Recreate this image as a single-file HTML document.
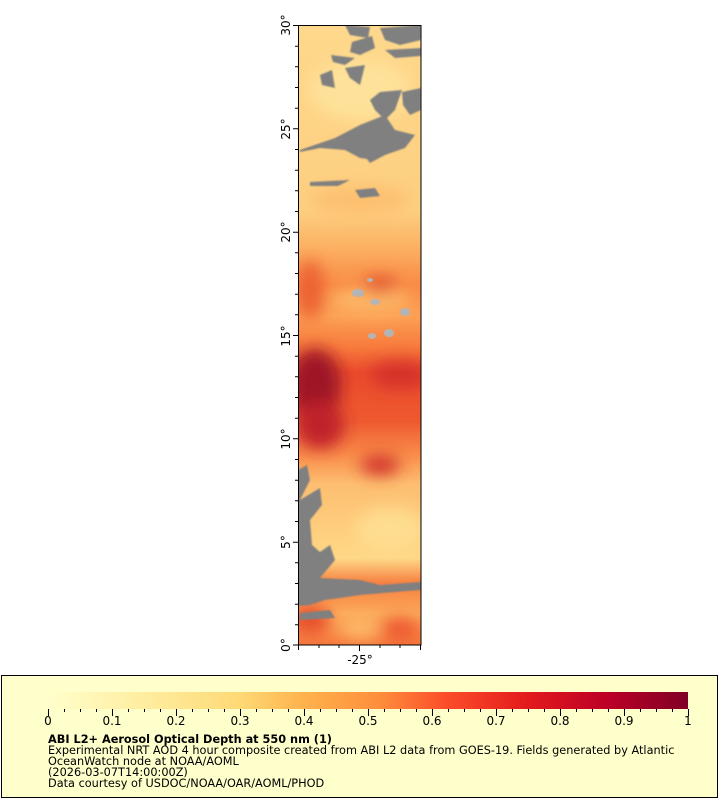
<!DOCTYPE html>
<html><head><meta charset="utf-8"><style>
body{margin:0;background:#fff;width:720px;height:800px;position:relative;overflow:hidden;font-family:"DejaVu Sans","Liberation Sans",sans-serif}
.lg{position:absolute;left:1px;top:675px;width:715px;height:121px;background:#ffffcc;border:1px solid #000}
.t{position:absolute;left:48px;font-size:11.3px;line-height:11px;color:#000;white-space:nowrap}
</style></head><body>
<svg width="720" height="670" style="position:absolute;left:0;top:0">
<defs>
<linearGradient id="bg" x1="0" y1="0" x2="0" y2="1">
<stop offset="0" stop-color="#fed88c"/>
<stop offset="0.3" stop-color="#fdcf80"/>
<stop offset="0.36" stop-color="#fcb062"/>
<stop offset="0.42" stop-color="#f98a45"/>
<stop offset="0.47" stop-color="#fca055"/>
<stop offset="0.52" stop-color="#f77a3c"/>
<stop offset="0.56" stop-color="#ea4b2c"/>
<stop offset="0.64" stop-color="#ee5a30"/>
<stop offset="0.69" stop-color="#f98a48"/>
<stop offset="0.74" stop-color="#fdbe70"/>
<stop offset="0.86" stop-color="#fed886"/>
<stop offset="0.9" stop-color="#f78040"/>
<stop offset="0.95" stop-color="#fbaa5a"/>
<stop offset="1" stop-color="#f6783c"/>
</linearGradient>
<filter id="b" x="-50%" y="-50%" width="200%" height="200%"><feGaussianBlur stdDeviation="8"/></filter>
<filter id="b2"><feGaussianBlur stdDeviation="0.8"/></filter>
<clipPath id="c"><rect x="298" y="25" width="123" height="620"/></clipPath>
</defs>
<g clip-path="url(#c)">
<rect x="298" y="25" width="123" height="620" fill="url(#bg)"/>
<g filter="url(#b)">
<ellipse cx="315" cy="385" rx="26" ry="36" fill="#9e1428"/>
<ellipse cx="320" cy="425" rx="24" ry="24" fill="#c0202a"/>
<ellipse cx="400" cy="375" rx="30" ry="14" fill="#d6302a"/>
<ellipse cx="380" cy="465" rx="20" ry="10" fill="#d0302a"/>
<ellipse cx="370" cy="300" rx="40" ry="12" fill="#fdb868"/>
<ellipse cx="380" cy="285" rx="18" ry="8" fill="#e04a2c"/>
<ellipse cx="310" cy="290" rx="14" ry="30" fill="#ec6230"/>
<ellipse cx="390" cy="530" rx="35" ry="22" fill="#fedd90"/>
<ellipse cx="360" cy="200" rx="50" ry="15" fill="#fdc070"/>
<ellipse cx="360" cy="90" rx="50" ry="30" fill="#fee29a"/>
<ellipse cx="310" cy="620" rx="20" ry="15" fill="#e84e2c"/>
<ellipse cx="400" cy="630" rx="20" ry="12" fill="#ee5a30"/>
<ellipse cx="360" cy="628" rx="20" ry="10" fill="#fdbb6a"/>
</g>
<g fill="#808080" filter="url(#b2)">
<path d="M345 25 L370 27 L368 38 L350 35Z"/>
<path d="M352 42 L372 36 L375 48 L360 55 L350 52Z"/>
<path d="M380 28 L421 25 L421 40 L400 45 L385 40Z"/>
<path d="M385 50 L421 48 L421 56 L395 58Z"/>
<path d="M331 55 L355 58 L345 65 L333 62Z"/>
<path d="M345 68 L365 65 L360 85 L350 78Z"/>
<path d="M320 75 L332 70 L335 88 L322 85Z"/>
<path d="M380 92 L402 90 L395 110 L385 120 L375 110 L370 100Z"/>
<path d="M402 92 L421 88 L421 110 L410 115 L403 105Z"/>
<path d="M300 150 L335 138 L360 125 L385 115 L395 130 L380 145 L375 160 L360 158 L345 150 L320 148 L300 152Z"/>
<path d="M360 150 L395 130 L415 135 L405 148 L385 155 L370 163Z"/>
<path d="M355 190 L375 188 L380 196 L360 198Z"/>
<path d="M310 182 L350 180 L338 186 L310 186Z"/>
<path d="M298 470 L307 465 L310 480 L300 500 L320 488 L322 505 L310 520 L312 545 L320 552 L330 545 L335 560 L320 578 L360 580 L380 585 L421 582 L421 590 L395 592 L360 595 L340 598 L325 600 L310 605 L298 606Z"/>
<path d="M300 613 L330 610 L335 618 L300 620Z"/>
</g>
<g fill="#b4b4b4">
<ellipse cx="358" cy="293" rx="6" ry="4"/>
<ellipse cx="375" cy="302" rx="5" ry="3"/>
<ellipse cx="405" cy="312" rx="5" ry="4"/>
<ellipse cx="389" cy="333" rx="5" ry="4"/>
<ellipse cx="372" cy="336" rx="4" ry="3"/>
<ellipse cx="370" cy="280" rx="3" ry="2"/>
</g>
</g>
<rect x="298.5" y="25.5" width="122.5" height="619.5" fill="none" stroke="#000" stroke-width="1"/>
<g stroke="#000" stroke-width="1">
<path d="M293 25.5H298M293 128.8H298M293 232.2H298M293 335.5H298M293 438.8H298M293 542.2H298M293 645H298"/>
<path d="M295 46.2H298M295 66.8H298M295 87.5H298M295 108.2H298M295 149.5H298M295 170.2H298M295 190.8H298M295 211.5H298M295 252.8H298M295 273.5H298M295 294.2H298M295 314.8H298M295 356.2H298M295 376.8H298M295 397.5H298M295 418.2H298M295 459.5H298M295 480.2H298M295 500.8H298M295 521.5H298M295 562.8H298M295 583.5H298M295 604.2H298M295 624.8H298"/>
<path d="M298.5 645V650M319 645V648M339 645V648M359.5 645V651M380 645V648M400 645V648M420.5 645V650"/>
</g>
<g font-size="12" fill="#000" font-family="DejaVu Sans, sans-serif">
<text transform="translate(290,25) rotate(-90)" text-anchor="middle">30°</text>
<text transform="translate(290,129) rotate(-90)" text-anchor="middle">25°</text>
<text transform="translate(290,232) rotate(-90)" text-anchor="middle">20°</text>
<text transform="translate(290,336) rotate(-90)" text-anchor="middle">15°</text>
<text transform="translate(290,439) rotate(-90)" text-anchor="middle">10°</text>
<text transform="translate(290,542) rotate(-90)" text-anchor="middle">5°</text>
<text transform="translate(290,645) rotate(-90)" text-anchor="middle">0°</text>
<text x="360" y="664" text-anchor="middle">-25°</text>
</g>
</svg>
<div class="lg"></div>
<svg width="720" height="40" style="position:absolute;left:0;top:688px">
<defs><linearGradient id="cb" x1="0" x2="1">
<stop offset="0" stop-color="#ffffcc"/><stop offset="0.15" stop-color="#ffeda0"/>
<stop offset="0.3" stop-color="#fed976"/><stop offset="0.4" stop-color="#feb24c"/>
<stop offset="0.52" stop-color="#fd8d3c"/><stop offset="0.62" stop-color="#fc4e2a"/>
<stop offset="0.75" stop-color="#e31a1c"/><stop offset="0.87" stop-color="#bd0026"/>
<stop offset="1" stop-color="#800026"/></linearGradient></defs>
<rect x="48" y="4" width="640" height="17" fill="url(#cb)"/>
<g stroke="#000">
<path d="M48.5 21V28M112.5 21V28M176.5 21V28M240.5 21V28M304.5 21V28M368.5 21V28M432.5 21V28M496.5 21V28M560.5 21V28M624.5 21V28M688.5 21V28"/>
<path d="M64.5 21V24M80.5 21V24M96.5 21V24M128.5 21V24M144.5 21V24M160.5 21V24M192.5 21V24M208.5 21V24M224.5 21V24M256.5 21V24M272.5 21V24M288.5 21V24M320.5 21V24M336.5 21V24M352.5 21V24M384.5 21V24M400.5 21V24M416.5 21V24M448.5 21V24M464.5 21V24M480.5 21V24M512.5 21V24M528.5 21V24M544.5 21V24M576.5 21V24M592.5 21V24M608.5 21V24M640.5 21V24M656.5 21V24M672.5 21V24"/>
</g>
<g font-size="12" text-anchor="middle" font-family="DejaVu Sans, sans-serif">
<text x="48" y="37">0</text><text x="112" y="37">0.1</text><text x="176" y="37">0.2</text><text x="240" y="37">0.3</text><text x="304" y="37">0.4</text><text x="368" y="37">0.5</text><text x="432" y="37">0.6</text><text x="496" y="37">0.7</text><text x="560" y="37">0.8</text><text x="624" y="37">0.9</text><text x="688" y="37">1</text>
</g>
</svg>
<div class="t" style="top:734px;font-weight:bold">ABI L2+ Aerosol Optical Depth at 550 nm (1)</div>
<div class="t" style="top:745px">Experimental NRT AOD 4 hour composite created from ABI L2 data from GOES-19. Fields generated by Atlantic</div>
<div class="t" style="top:756px">OceanWatch node at NOAA/AOML</div>
<div class="t" style="top:767px">(2026-03-07T14:00:00Z)</div>
<div class="t" style="top:778px">Data courtesy of USDOC/NOAA/OAR/AOML/PHOD</div>
</body></html>
